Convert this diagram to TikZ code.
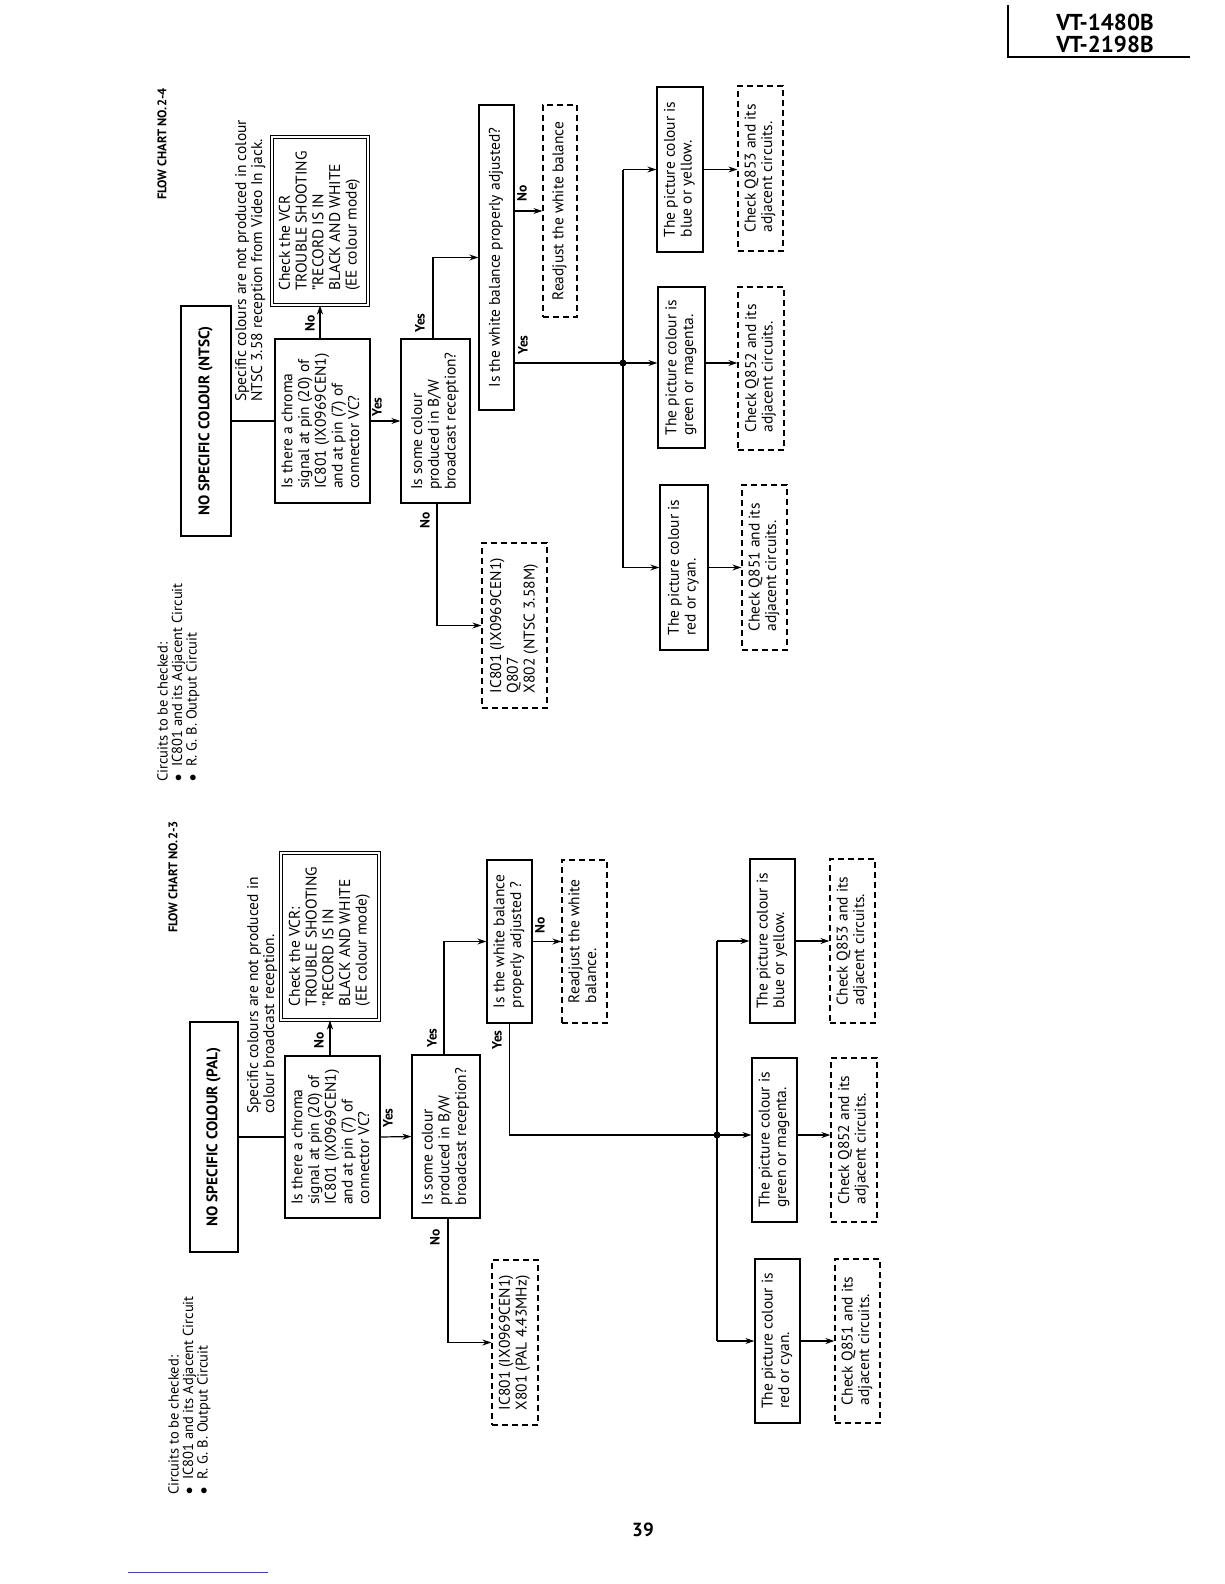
\documentclass[tikz,border=0pt]{standalone}
\usepackage{fontspec}
\setmainfont{PT Sans}
\usepackage{graphicx}
\usetikzlibrary{arrows.meta}
\newcommand\rtxt[1]{\rotatebox{90}{\begin{tabular}{@{}l@{}}#1\end{tabular}}}
\newcommand\bul{$\bullet$\ \ }
\tikzset{
  box/.style={draw, line width=1.3pt, inner sep=0pt, font=\fontsize{15.5}{16.7}\selectfont},
  tbox/.style={draw, line width=2.3pt, inner sep=0pt, font=\bfseries\fontsize{15.3}{17}\selectfont},
  vbox/.style={draw, double, double distance=2pt, line width=0.9pt, inner sep=0pt, font=\fontsize{15.5}{16.7}\selectfont},
  dbox/.style={draw, dash pattern=on 6pt off 4pt, line width=1.2pt, inner sep=0pt, font=\fontsize{15.5}{16.7}\selectfont},
  txt/.style={inner sep=0pt, font=\fontsize{15.5}{16}\selectfont},
  ctxt/.style={inner sep=0pt, font=\fontsize{14.5}{13.8}\selectfont},
  lab/.style={inner sep=0pt, rotate=90, font=\bfseries\fontsize{13.5}{13.5}\selectfont},
  fc/.style={inner sep=0pt, rotate=90, font=\bfseries\fontsize{12.5}{12.5}\selectfont},
  arr/.style={-{Stealth[length=9pt,width=6pt]}, line width=1.2pt},
  ln/.style={line width=1.2pt},
}
\begin{document}
\begin{tikzpicture}[x=1pt,y=-1pt]
\useasboundingbox (0,0) rectangle (1224,1584);
\fill[white] (0,0) rectangle (1224,1584);

% header
\node[inner sep=0pt, font=\bfseries\fontsize{23}{24}\selectfont] (hdA) at (1105,22) {VT-1480B};
\node[inner sep=0pt, font=\bfseries\fontsize{23}{24}\selectfont] (hdB) at (1105,44) {VT-2198B};
\draw[line width=1.5pt] (1008,5) -- (1008,57) -- (1190,57);
\node[inner sep=0pt, font=\bfseries\fontsize{19}{20}\selectfont] (pg) at (643,1530) {39};
\draw[line width=0.6pt, blue!50!gray] (128,1572) -- (268,1572);

% ================= NTSC (top) =================
\node[fc] (fc1) at (162,144) {FLOW CHART NO.2-4};
\node[ctxt, anchor=south] (circ1) at (179,782) {\rtxt{Circuits to be checked:\\\bul IC801 and its Adjacent Circuit\\\bul R. G. B. Output Circuit}};
\node[tbox, minimum width=50pt, minimum height=230pt] (title1) at (206,421) {\rtxt{NO SPECIFIC COLOUR (NTSC)}};
\node[txt, anchor=south] (note1) at (251,402) {\rtxt{Specific colours are not produced in colour\\NTSC 3.58 reception from Video In jack.}};
\node[box, minimum width=95pt, minimum height=164pt] (chroma1) at (322.5,421) {\rtxt{Is there a chroma\\signal at pin (20) of\\IC801 (IX0969CEN1)\\and at pin (7) of\\connector VC?}};
\node[vbox, minimum width=96pt, minimum height=168pt] (vcr1) at (320,221) {\rtxt{Check the VCR\\TROUBLE SHOOTING\\"RECORD IS IN\\BLACK AND WHITE\\(EE colour mode)}};
\node[box, minimum width=69pt, minimum height=164pt] (bw1) at (435.5,421) {\rtxt{Is some colour\\produced in B/W\\broadcast reception?}};
\node[box, minimum width=35pt, minimum height=305pt] (wb1) at (496.5,257.5) {\rtxt{Is the white balance properly adjusted?}};
\node[dbox, minimum width=34pt, minimum height=212pt] (rdj1) at (560,211) {\rtxt{Readjust the white balance}};
\node[dbox, minimum width=65pt, minimum height=165pt] (ic1) at (514.5,625.5) {\rtxt{IC801 (IX0969CEN1)\\Q807\\X802 (NTSC 3.58M)}};
\node[box, minimum width=46pt, minimum height=165pt] (blu1) at (680,169.5) {\rtxt{The picture colour is\\blue or yellow.}};
\node[box, minimum width=47pt, minimum height=161pt] (grn1) at (681.5,367.5) {\rtxt{The picture colour is\\green or magenta.}};
\node[box, minimum width=48pt, minimum height=165pt] (red1) at (684,567.5) {\rtxt{The picture colour is\\red or cyan.}};
\node[dbox, minimum width=45pt, minimum height=165pt] (q853a) at (760.5,168.5) {\rtxt{Check Q853 and its\\adjacent circuits.}};
\node[dbox, minimum width=46pt, minimum height=163pt] (q852a) at (761,368.5) {\rtxt{Check Q852 and its\\adjacent circuits.}};
\node[dbox, minimum width=45pt, minimum height=165pt] (q851a) at (764.5,567.5) {\rtxt{Check Q851 and its\\adjacent circuits.}};
\coordinate (j1) at (623,363);

\draw[ln] (title1.east) -- (chroma1.west);
\draw[arr] (chroma1.north -| vcr1.south) -- (vcr1.south);
\draw[arr] (chroma1.east) -- (bw1.west);
\draw[arr] ([xshift=-2.5pt]bw1.north) |- (wb1.west);
\draw[arr] (wb1.east |- rdj1.west) -- (rdj1.west);
\draw[ln] (wb1.east |- j1) -- (j1);
\draw[ln] (j1 |- blu1.west) -- (j1 |- red1.west);
\draw[arr] (j1 |- blu1.west) -- (blu1.west);
\draw[arr] (j1) -- (grn1.west |- j1);
\draw[arr] (j1 |- red1.west) -- (red1.west);
\draw[arr] (blu1.east) -- (q853a.west |- blu1.east);
\draw[arr] (grn1.east |- j1) -- (q852a.west |- j1);
\draw[arr] (red1.east) -- (q851a.west |- red1.east);
\draw[arr] ([xshift=1.5pt]bw1.south) |- (ic1.west);
\fill (j1) circle (3.5pt);

\node[lab] (l1a) at (310,323) {No};
\node[lab] (l1b) at (377,407) {Yes};
\node[lab] (l1c) at (420,323) {Yes};
\node[lab] (l1d) at (522,193) {No};
\node[lab] (l1e) at (523,345) {Yes};
\node[lab] (l1f) at (425,520) {No};

% ================= PAL (bottom) =================
\node[fc] (fc2) at (173,877) {FLOW CHART NO.2-3};
\node[ctxt, anchor=south] (circ2) at (190,1495) {\rtxt{Circuits to be checked:\\\bul IC801 and its Adjacent Circuit\\\bul R. G. B. Output Circuit}};
\node[tbox, minimum width=48pt, minimum height=230pt] (title2) at (214,1137) {\rtxt{NO SPECIFIC COLOUR (PAL)}};
\node[txt, anchor=south] (note2) at (263,1114) {\rtxt{Specific colours are not produced in\\colour broadcast reception.}};
\node[box, minimum width=95pt, minimum height=162pt] (chroma2) at (332.5,1137) {\rtxt{Is there a chroma\\signal at pin (20) of\\IC801 (IX0969CEN1)\\and at pin (7) of\\connector VC?}};
\node[vbox, minimum width=98pt, minimum height=167pt] (vcr2) at (330,936.5) {\rtxt{Check the VCR:\\TROUBLE SHOOTING\\"RECORD IS IN\\BLACK AND WHITE\\(EE colour mode)}};
\node[box, minimum width=68pt, minimum height=163pt] (bw2) at (446,1136.5) {\rtxt{Is some colour\\produced in B/W\\broadcast reception?}};
\node[box, minimum width=45pt, minimum height=163pt] (wb2) at (509.5,941.5) {\rtxt{Is the white balance\\properly adjusted ?}};
\node[dbox, minimum width=45pt, minimum height=163pt] (rdj2) at (584.5,941.5) {\rtxt{Readjust the white\\balance.}};
\node[dbox, minimum width=46pt, minimum height=165pt] (ic2) at (515,1342.5) {\rtxt{IC801 (IX0969CEN1)\\X801 (PAL 4.43MHz)}};
\node[box, minimum width=45pt, minimum height=164pt] (blu2) at (772.5,941) {\rtxt{The picture colour is\\blue or yellow.}};
\node[box, minimum width=45pt, minimum height=164pt] (grn2) at (774.5,1140) {\rtxt{The picture colour is\\green or magenta.}};
\node[box, minimum width=45pt, minimum height=164pt] (red2) at (777.5,1341) {\rtxt{The picture colour is\\red or cyan.}};
\node[dbox, minimum width=45pt, minimum height=164pt] (q853b) at (852.5,941) {\rtxt{Check Q853 and its\\adjacent circuits.}};
\node[dbox, minimum width=46pt, minimum height=164pt] (q852b) at (854,1140) {\rtxt{Check Q852 and its\\adjacent circuits.}};
\node[dbox, minimum width=45pt, minimum height=164pt] (q851b) at (857.5,1341) {\rtxt{Check Q851 and its\\adjacent circuits.}};
\coordinate (j2) at (717,1135);

\draw[ln] (title2.east) -- (chroma2.west);
\draw[arr] (chroma2.north -| vcr2.south) -- (vcr2.south);
\draw[arr] (chroma2.east) -- (bw2.west);
\draw[arr] ([xshift=-2pt]bw2.north) |- (wb2.west);
\draw[arr] (wb2.east) -- (rdj2.west);
\draw[ln] (wb2.south) |- (j2);
\draw[ln] (j2 |- blu2.west) -- (j2 |- red2.west);
\draw[arr] (j2 |- blu2.west) -- (blu2.west);
\draw[arr] (j2) -- (grn2.west |- j2);
\draw[arr] (j2 |- red2.west) -- (red2.west);
\draw[arr] (blu2.east) -- (q853b.west |- blu2.east);
\draw[arr] (grn2.east |- j2) -- (q852b.west |- j2);
\draw[arr] (red2.east) -- (q851b.west |- red2.east);
\draw[arr] ([xshift=2pt]bw2.south) |- (ic2.west);
\fill (j2) circle (3.5pt);

\node[lab] (l2a) at (319,1040) {No};
\node[lab] (l2b) at (388,1118) {Yes};
\node[lab] (l2c) at (432,1038) {Yes};
\node[lab] (l2d) at (540,925) {No};
\node[lab] (l2e) at (497,1040) {Yes};
\node[lab] (l2f) at (435,1237) {No};
\end{tikzpicture}
\end{document}
